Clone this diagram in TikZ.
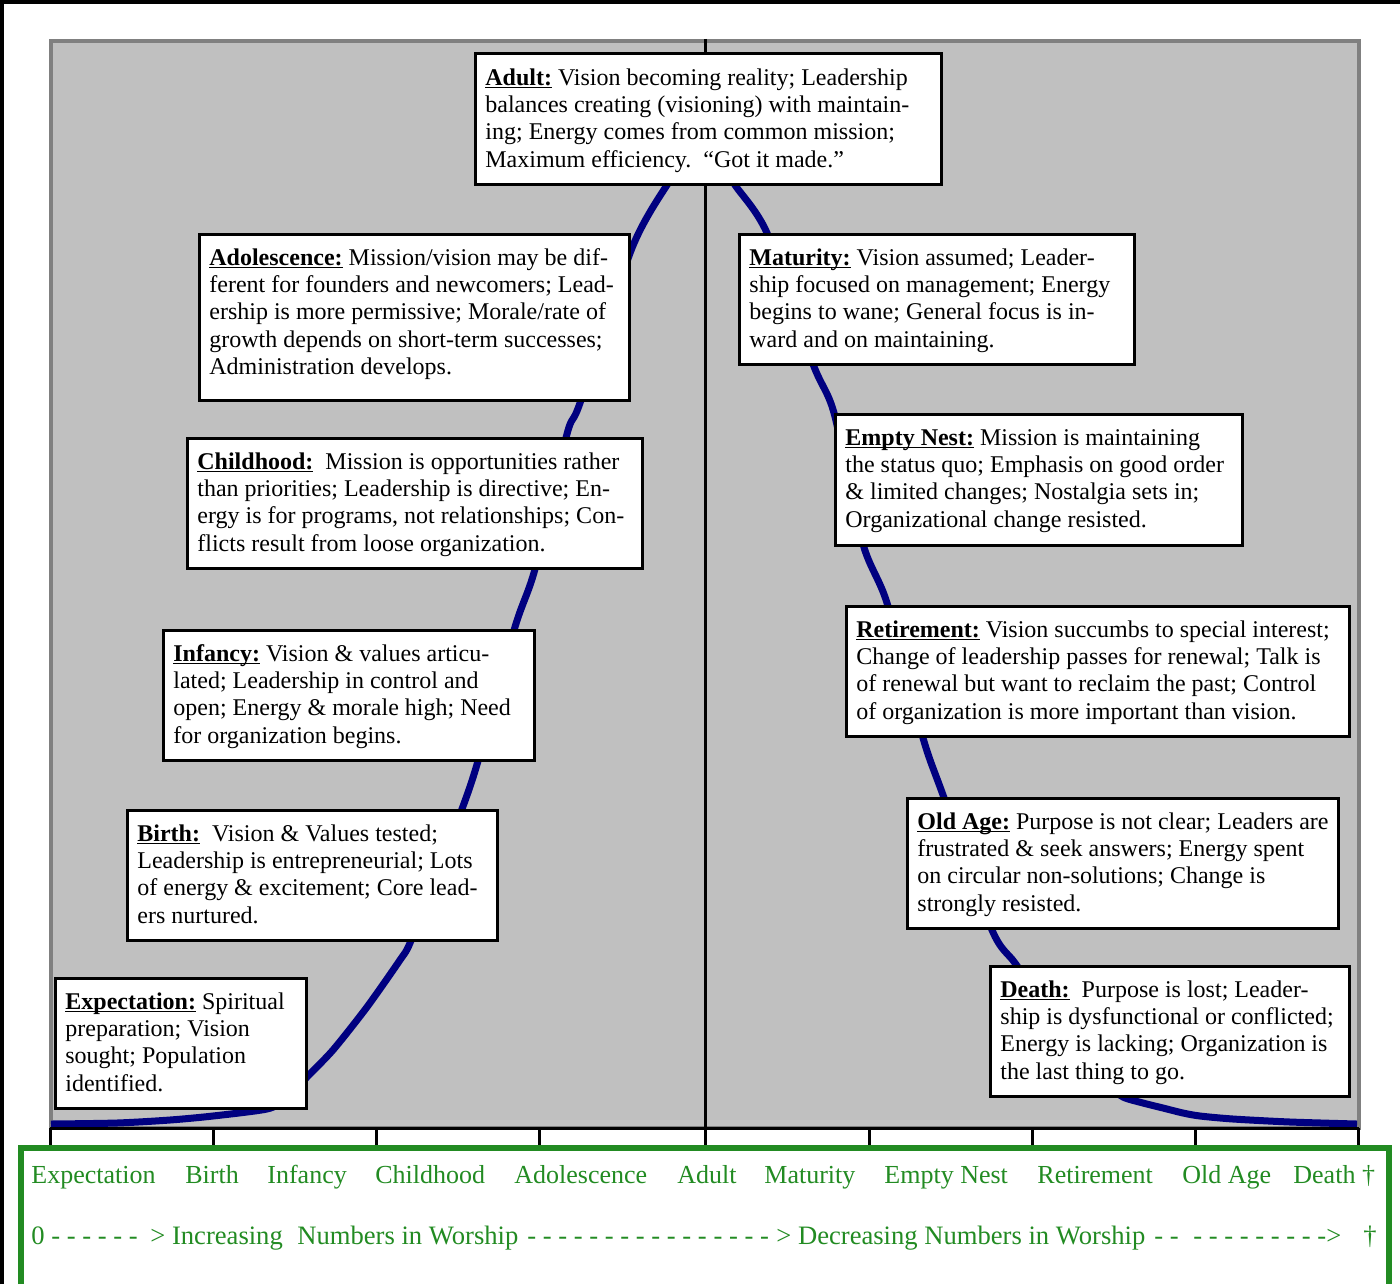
\documentclass[tikz,border=0pt]{standalone}
\usepackage{fontspec}
\setmainfont{Liberation Serif}
\usetikzlibrary{fit,calc}
\definecolor{plotgray}{RGB}{192,192,192}
\definecolor{framegray}{RGB}{128,128,128}
\definecolor{curvenavy}{RGB}{0,0,128}
\definecolor{labelgreen}{RGB}{34,139,34}
\newsavebox\hdbox
\newcommand{\hd}[1]{\sbox\hdbox{\bfseries #1}\rlap{\rule[-1.6pt]{\wd\hdbox}{0.75pt}}\usebox\hdbox}
\newcommand{\stagelines}[1]{\begin{tabular}[t]{@{}l@{}}#1\end{tabular}}
\newcommand{\stage}[6]{%
  \node[stagebox, fit={(#2,#3) (#4,#5)}] (#1box) {};
  \node[stagetext] (#1text) at ($(#2,#3)+(10,31)$) {\stagelines{#6}};
}
\begin{document}
\begin{tikzpicture}[x=0.5pt,y=-0.5pt,
  stagebox/.style={draw=black, line width=1.5pt, fill=white, inner sep=0pt},
  stagetext/.style={anchor=base west, inner sep=0pt, font=\fontsize{12}{13.7}\selectfont},
  axislabel/.style={anchor=base west, inner sep=0pt, text=labelgreen, font=\fontsize{13}{15}\selectfont},
  numlabel/.style={anchor=base west, inner sep=0pt, text=labelgreen, font=\fontsize{13.3}{15}\selectfont},
  plotarea/.style={fill=plotgray, draw=framegray, line width=2pt},
  lifecurve/.style={draw=curvenavy, line width=3.5pt, line cap=butt, line join=round},
  axisline/.style={draw=black, line width=1.5pt},
  greenframe/.style={draw=labelgreen, line width=3pt, line join=miter},
  outerframe/.style={draw=black, line width=2pt}]
\useasboundingbox (0,0) rectangle (1400,1284);

% plot area
\draw[plotarea] (51,41) rectangle (1358.5,1128);
\coordinate (ctop) at (705,39);
\coordinate (cbot) at (705,1128);
\draw[axisline] (ctop) -- (cbot);

% curve
\draw[lifecurve] plot[smooth, tension=0.45] coordinates {
 (51,1124) (117,1123) (170,1120) (213,1116) (267,1109) (285,1100) (298,1088) (307,1077)
 (333,1050) (367,1007) (400,960) (410,943) (436,876) (462,809) (478,761) (515,627) (535,569)
 (567,434) (580,403) (632,248) (667,185) (688,160) (705,153) (720,160) (735,185) (767,233)
 (813,364) (834,413) (863,544) (887,603) (923,738) (943,795) (992,930) (1015,963)
 (1050,1012) (1085,1058) (1108,1085) (1123,1097) (1143,1103) (1163,1108) (1183,1113)
 (1200,1116) (1233,1119) (1290,1122) (1357,1124)};

% stage boxes
\stage{adult}{475}{54}{941}{184}{%
 \hd{Adult:} Vision becoming reality; Leadership\\
 balances creating (visioning) with maintain-\\
 ing; Energy comes from common mission;\\
 Maximum efficiency.\ \ “Got it made.”}
\stage{adol}{199}{234}{629}{400}{%
 \hd{Adolescence:} Mission/vision may be dif-\\
 ferent for founders and newcomers; Lead-\\
 ership is more permissive; Morale/rate of\\
 growth depends on short-term successes;\\
 Administration develops.}
\stage{child}{187}{438}{642}{568}{%
 \hd{Childhood:}\ \ Mission is opportunities rather\\
 than priorities; Leadership is directive; En-\\
 ergy is for programs, not relationships; Con-\\
 flicts result from loose organization.}
\stage{infancy}{163}{630}{534}{760}{%
 \hd{Infancy:} Vision \& values articu-\\
 lated; Leadership in control and\\
 open; Energy \& morale high; Need\\
 for organization begins.}
\stage{birth}{127}{810}{497}{940}{%
 \hd{Birth:}\ \ Vision \& Values tested;\\
 Leadership is entrepreneurial; Lots\\
 of energy \& excitement; Core lead-\\
 ers nurtured.}
\stage{expect}{55}{978}{306}{1108}{%
 \hd{Expectation:} Spiritual\\
 preparation; Vision\\
 sought; Population\\
 identified.}
\stage{maturity}{739}{234}{1134}{364}{%
 \hd{Maturity:} Vision assumed; Leader-\\
 ship focused on management; Energy\\
 begins to wane; General focus is in-\\
 ward and on maintaining.}
\stage{nest}{835}{414}{1242}{545}{%
 \hd{Empty Nest:} Mission is maintaining\\
 the status quo; Emphasis on good order\\
 \& limited changes; Nostalgia sets in;\\
 Organizational change resisted.}
\stage{retire}{846}{606}{1349}{736}{%
 \hd{Retirement:} Vision succumbs to special interest;\\
 Change of leadership passes for renewal; Talk is\\
 of renewal but want to reclaim the past; Control\\
 of organization is more important than vision.}
\stage{oldage}{907}{798}{1338}{928}{%
 \hd{Old Age:} Purpose is not clear; Leaders are\\
 frustrated \& seek answers; Energy spent\\
 on circular non-solutions; Change is\\
 strongly resisted.}
\stage{death}{990}{966}{1349}{1096}{%
 \hd{Death:}\ \ Purpose is lost; Leader-\\
 ship is dysfunctional or conflicted;\\
 Energy is lacking; Organization is\\
 the last thing to go.}

% axis and ticks
\coordinate (aleft) at (50,1128);
\coordinate (aright) at (1359,1128);
\draw[axisline] (aleft) -- (aright);
\foreach \tx in {50,213,376,539,705,869,1032,1195,1358}
  \draw[axisline] (\tx,1128) -- (\tx,1146);

% green legend frame
\coordinate (g1) at (21,1284);
\coordinate (g2) at (21,1148);
\coordinate (g3) at (1389,1148);
\coordinate (g4) at (1389,1284);
\draw[greenframe] (g1) -- (g2) -- (g3) -- (g4);

% stage names
\node[axislabel] (l1) at (31,1183) {Expectation};
\node[axislabel] (l2) at (185,1183) {Birth};
\node[axislabel] (l3) at (267,1183) {Infancy};
\node[axislabel] (l4) at (375,1183) {Childhood};
\node[axislabel] (l5) at (514,1183) {Adolescence};
\node[axislabel] (l6) at (677,1183) {Adult};
\node[axislabel] (l7) at (764,1183) {Maturity};
\node[axislabel] (l8) at (884,1183) {Empty Nest};
\node[axislabel] (l9) at (1037,1183) {Retirement};
\node[axislabel] (l10) at (1182,1183) {Old Age};
\node[axislabel] (l11) at (1293,1183) {Death †};

% numbers row
\node[numlabel] (n1) at (31,1244) {0 - - - - - -};
\node[numlabel] (n2) at (150,1244) {> Increasing};
\node[numlabel] (n2b) at (297,1244) {Numbers in Worship};
\node[numlabel] (n3) at (527,1244) {- - - - - - - - - - - - - - - -};
\node[numlabel] (n4) at (776,1244) {> Decreasing Numbers in Worship};
\node[numlabel] (n5) at (1154,1244) {- -};
\node[numlabel] (n6) at (1193,1244) {- - - - - - - - ->};
\node[numlabel] (n7) at (1363,1244) {†};

% outer frame
\coordinate (f1) at (2,1284);
\coordinate (f2) at (2,2);
\coordinate (f3) at (1400,2);
\draw[outerframe] (f1) -- (f2) -- (f3);
\end{tikzpicture}
\end{document}
